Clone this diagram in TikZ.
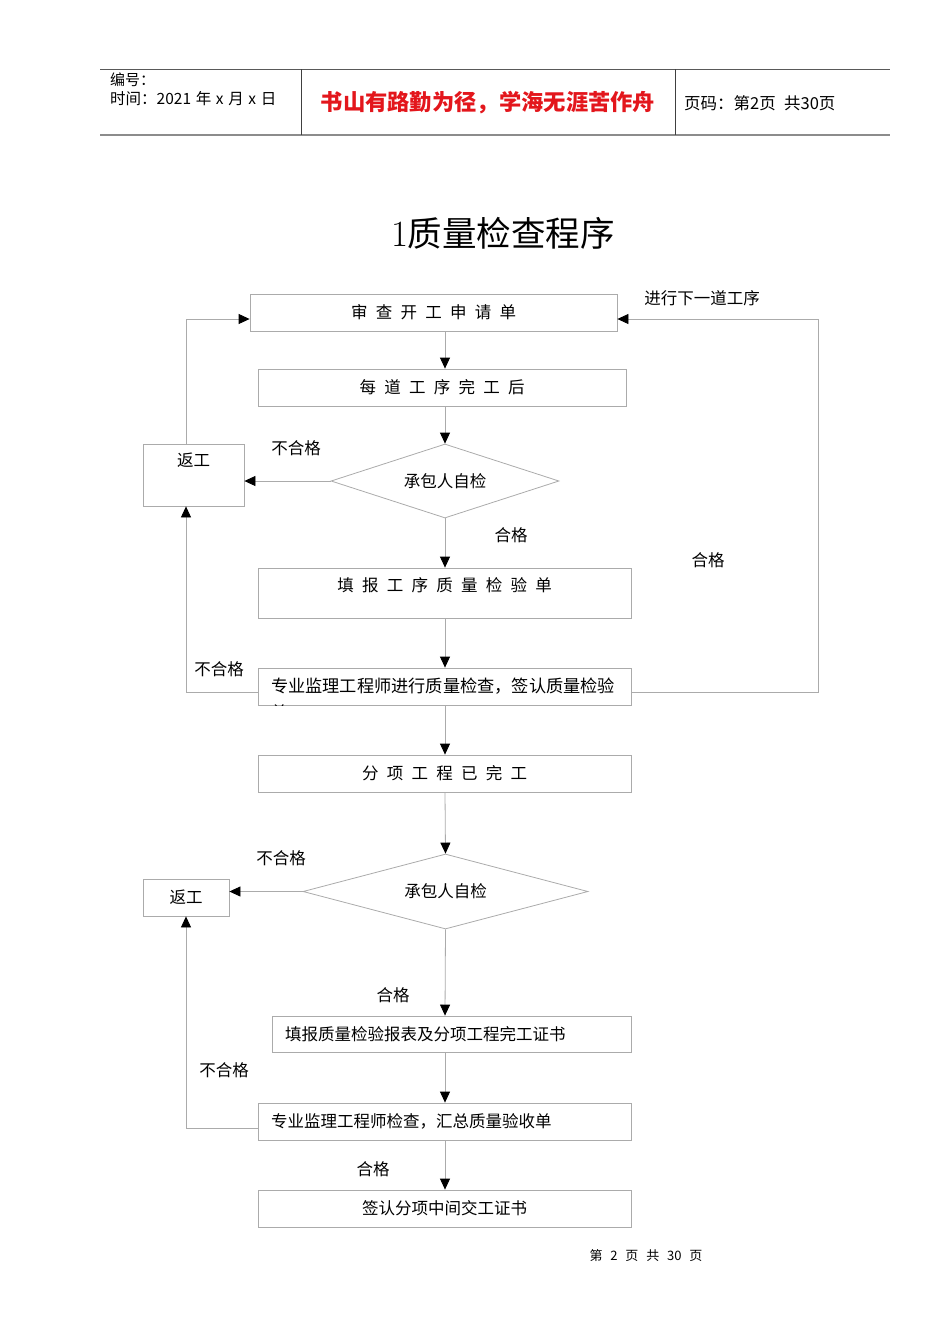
\documentclass[tikz,border=0pt]{standalone}
\usepackage{fontspec}
\newfontfamily\cjk{Noto Sans CJK SC}
\usetikzlibrary{arrows.meta,shapes.geometric}
\definecolor{linegray}{HTML}{ABABAB}
\definecolor{headred}{HTML}{E3161C}
\newcommand\bodyfont{\cjk\fontsize{16.5}{20}\selectfont}
\newcommand\widefont{\cjk\fontsize{16.5}{20}\selectfont\spaceskip=0.5em\relax}
\newcommand\datefont{\cjk\fontsize{15.5}{18}\selectfont\spaceskip=0.3em\relax}
\newcommand\pagefont{\cjk\fontsize{16.5}{20}\selectfont\spaceskip=0.5em\relax}
\newcommand\footfont{\cjk\fontsize{13}{16}\selectfont\spaceskip=0.6em\relax}

\begin{document}
\begin{tikzpicture}[x=1pt,y=-1pt,
  box/.style={draw=linegray, line width=0.8pt, rectangle, inner sep=0pt, font=\bodyfont},
  widebox/.style={box, font=\widefont},
  decide/.style={draw=linegray, line width=0.8pt, diamond, inner sep=0pt, font=\bodyfont},
  link/.style={draw=linegray, line width=0.8pt, -{Triangle[length=11pt,width=10pt,color=black]}},
  tag/.style={font=\bodyfont, inner sep=0pt}]
\useasboundingbox (0,0) rectangle (950,1344);

% header
\draw[black!65, line width=0.8pt] (100,69) -- (890,69);
\draw[black!45, line width=1.8pt] (100,135) -- (890,135);
\draw[black!75, line width=0.8pt] (301,69) -- (301,135);
\draw[black!75, line width=0.8pt] (675,69) -- (675,135);
\node[anchor=west, inner sep=0pt, font=\cjk\fontsize{15}{18}\selectfont] (bianhao) at (110,80) {编号：};
\node[anchor=west, inner sep=0pt, font=\datefont] (shijian) at (110,99) {时间：2021 年 x 月 x 日};
\node[inner sep=0pt, text=headred, font=\cjk\fontsize{22.3}{26}\selectfont\bfseries] (motto) at (488,103) {书山有路勤为径，学海无涯苦作舟};
\node[anchor=west, inner sep=0pt, font=\pagefont] (yema) at (684,103) {页码：第2页 共30页};

% title
\node[inner sep=0pt, font=\fontsize{37}{40}\selectfont] (title) at (503,233) {1{\cjk\fontsize{34.5}{38}\selectfont 质量检查程序}};

% boxes
\node[widebox, minimum width=367, minimum height=37] (shenqing) at (433.5,312.5) {审 查 开 工 申 请 单};
\node[widebox, minimum width=368, minimum height=37] (meidao) at (442,387.5) {每 道 工 序 完 工 后};
\node[decide, aspect=3.08, minimum width=228, minimum height=74] (zijian1) at (445,481) {承包人自检};
\node[box, minimum width=101, minimum height=62, text height=22, text depth=40] (fangong1) at (193.5,475) {返工};
\node[widebox, minimum width=373, minimum height=50, text height=23, text depth=27] (tianbao) at (444.5,593) {填 报 工 序 质 量 检 验 单};
\node[box, minimum height=37, inner xsep=13pt, text width=347, align=left, font=\cjk\fontsize{17.2}{20}\selectfont] (jianli1) at (444.5,686.5) {专业监理工程师进行质量检查，签认质量检验};
\begin{scope}
\clip (jianli1.south west) rectangle (jianli1.north east);
\node[tag] (dan) at (279,712) {单};
\end{scope}
\node[widebox, minimum width=373, minimum height=37] (fenxiang) at (444.5,773.5) {分 项 工 程 已 完 工};
\node[decide, aspect=3.8, minimum width=285, minimum height=75] (zijian2) at (445.5,891.5) {承包人自检};
\node[box, minimum width=86, minimum height=37] (fangong2) at (186,897.5) {返工};
\node[box, minimum height=36, inner xsep=13pt, text width=333, align=left] (baobiao) at (451.5,1034) {填报质量检验报表及分项工程完工证书};
\node[box, minimum height=37, inner xsep=13pt, text width=347, align=left] (jianli2) at (444.5,1121.5) {专业监理工程师检查，汇总质量验收单};
\node[box, minimum width=373, minimum height=37] (jiaogong) at (444.5,1208.5) {签认分项中间交工证书};

% labels
\node[tag] (next) at (702,298) {进行下一道工序};
\node[tag] (bhg1) at (296,448) {不合格};
\node[tag] (hg1) at (511,535) {合格};
\node[tag] (hgR) at (708,560) {合格};
\node[tag] (bhg2) at (219,669) {不合格};
\node[tag] (bhg3) at (281,858) {不合格};
\node[tag] (hg3) at (393,995) {合格};
\node[tag] (bhg4) at (224,1070) {不合格};
\node[tag] (hg4) at (373,1169) {合格};

% connectors
\coordinate (col) at (445,0);
\coordinate (loopL) at (186,319);
\coordinate (loopR) at (818,319);
\coordinate (backA) at (0,692);
\coordinate (backB) at (0,1128);
\draw[link] (shenqing.south -| col) -- (meidao.north -| col);
\draw[link] (meidao.south -| col) -- (zijian1.north);
\draw[link] (zijian1.south) -- (tianbao.north -| col);
\draw[link] (tianbao.south -| col) -- (jianli1.north -| col);
\draw[link] (jianli1.south -| col) -- (fenxiang.north -| col);
\draw[link] (fenxiang.south -| col) -- (zijian2.north);
\draw[link] (zijian2.south) -- (baobiao.north -| col);
\draw[link] (baobiao.south -| col) -- (jianli2.north -| col);
\draw[link] (jianli2.south -| col) -- (jiaogong.north -| col);
\draw[link] (zijian1.west) -- (fangong1.east |- zijian1.west);
\draw[link] (zijian2.west) -- (fangong2.east |- zijian2.west);
\draw[link] (fangong1.north -| loopL) -- (loopL) -- (loopL -| shenqing.west);
\draw[link] (backA -| jianli1.east) -| (loopR) -- (loopR -| shenqing.east);
\draw[link] (backA -| jianli1.west) -| (fangong1.south -| loopL);
\draw[link] (backB -| jianli2.west) -| (fangong2.south);

% footer
\node[inner sep=0pt, font=\footfont] (footer) at (646,1256) {第 2 页 共 30 页};
\end{tikzpicture}
\end{document}
